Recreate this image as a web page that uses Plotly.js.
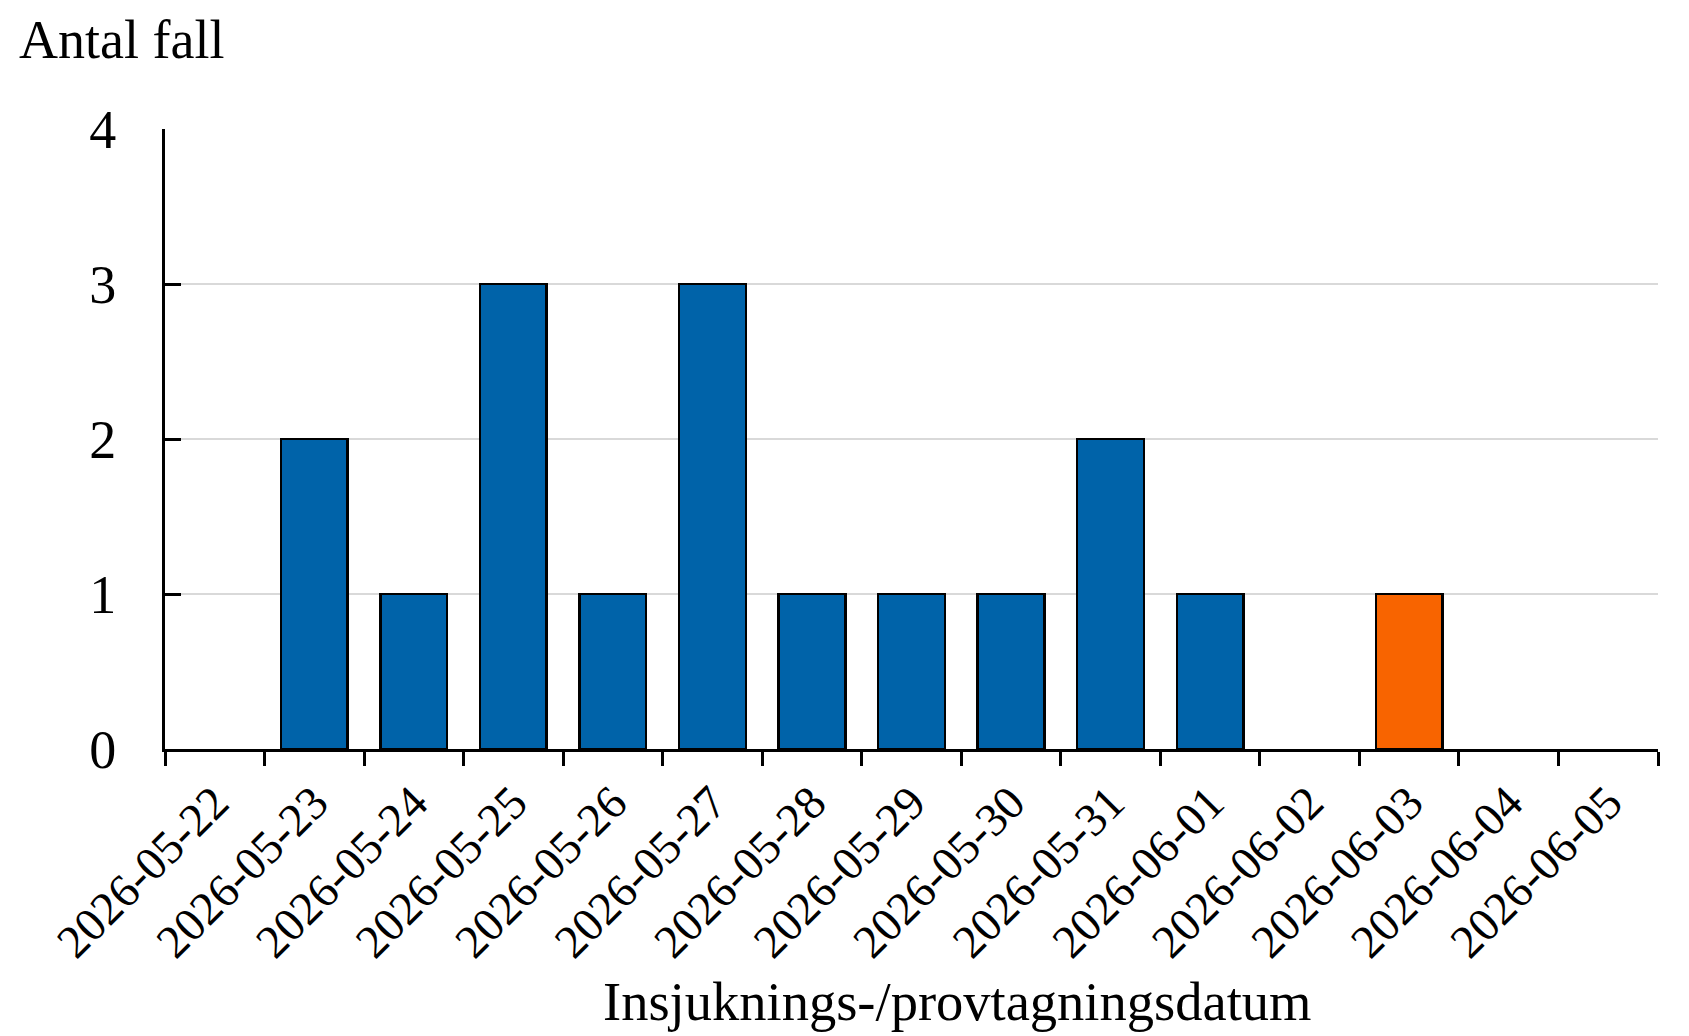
<!DOCTYPE html>
<html>
<head>
<meta charset="utf-8">
<script src="https://cdn.plot.ly/plotly-3.0.1.min.js"></script>
<style>html,body{margin:0;padding:0;background:#fff;}#chart{width:1689px;height:1036px;}</style>
</head>
<body>
<div id="chart"></div>
<script>
const categories = ['2026-05-22','2026-05-23','2026-05-24','2026-05-25','2026-05-26','2026-05-27','2026-05-28','2026-05-29','2026-05-30','2026-05-31','2026-06-01','2026-06-02','2026-06-03','2026-06-04','2026-06-05'];
const blueValues   = [0,2,1,3,1,3,1,1,1,2,1,0,0,0,0];
const orangeValues = [0,0,0,0,0,0,0,0,0,0,0,0,1,0,0];
const yTicks = [0,1,2,3,4];
const yTitle = 'Antal fall';
const xTitle = 'Insjuknings-/provtagningsdatum';

const FONT = 'Liberation Serif, Times New Roman, serif';

function nonZero(vals){
  const xs = [], ys = [];
  vals.forEach((v,i)=>{ if (v > 0) { xs.push(categories[i]); ys.push(v); } });
  return {x:xs, y:ys};
}
const b = nonZero(blueValues), o = nonZero(orangeValues);

const traces = [
  {type:'bar', x:b.x, y:b.y, marker:{color:'#0063a9', line:{color:'#000', width:2.5}}, hoverinfo:'x+y'},
  {type:'bar', x:o.x, y:o.y, marker:{color:'#f86400', line:{color:'#000', width:2.5}}, hoverinfo:'x+y'}
];

const layout = {
  width:1689, height:1036,
  margin:{l:165, r:31, t:129, b:287, pad:0},
  paper_bgcolor:'#fff', plot_bgcolor:'#fff',
  barmode:'stack', bargap:0.33,
  showlegend:false,
  font:{family:FONT, color:'#000'},
  xaxis:{
    type:'category', categoryorder:'array', categoryarray:categories, range:[-0.5, categories.length-0.5],
    tickson:'boundaries', ticks:'outside', ticklen:14, tickwidth:3, tickcolor:'#000',
    tickangle:-45, tickfont:{family:FONT, size:47, color:'#000'},
    ticklabelstandoff:4,
    showline:true, linecolor:'#000', linewidth:3,
    showgrid:false, zeroline:false, fixedrange:true
  },
  yaxis:{
    range:[0,4], tickvals:yTicks, ticktext:yTicks.map(String),
    ticks:'inside', ticklen:16, tickwidth:3, tickcolor:'#000',
    tickfont:{family:FONT, size:54, color:'#000'},
    ticklabelstandoff:35,
    showline:true, linecolor:'#000', linewidth:3,
    showgrid:true, gridcolor:'#d9d9d9', gridwidth:2.5,
    zeroline:false, fixedrange:true
  },
  annotations:[
    {text:yTitle, xref:'paper', yref:'paper', x:-0.0985, y:1.143, xanchor:'left', yanchor:'middle', showarrow:false, font:{family:FONT, size:54, color:'#000'}, borderpad:0},
    {text:xTitle, xref:'paper', yref:'paper', x:0.5305, y:-0.407, xanchor:'center', yanchor:'middle', showarrow:false, font:{family:FONT, size:54.5, color:'#000'}, borderpad:0}
  ]
};

Plotly.newPlot('chart', traces, layout, {displayModeBar:false, staticPlot:true});
</script>
</body>
</html>
